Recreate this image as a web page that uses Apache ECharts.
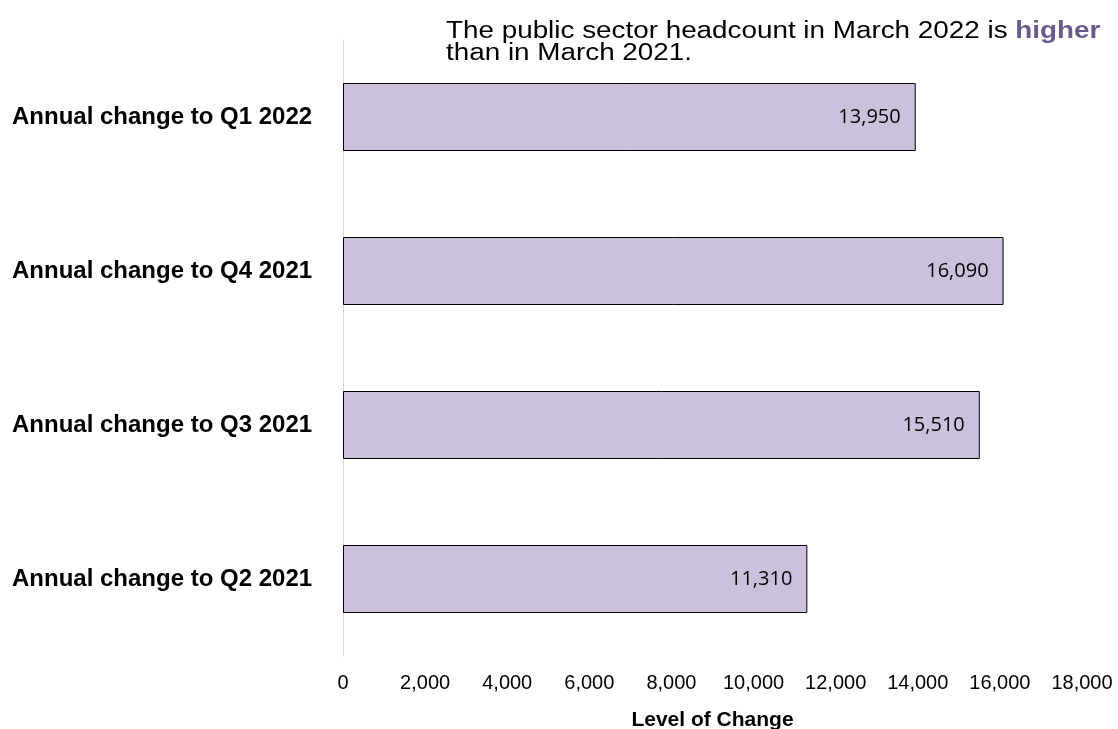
<!DOCTYPE html>
<html><head><meta charset="utf-8">
<script src="https://cdn.jsdelivr.net/npm/echarts@6/dist/echarts.min.js"></script>
<style>html,body{margin:0;padding:0;background:#fff}#c{width:1118px;height:729px}</style>
</head><body><div id="c"></div>
<script>
const categories = ['Annual change to Q1 2022','Annual change to Q4 2021','Annual change to Q3 2021','Annual change to Q2 2021'];
const values = [13950, 16090, 15510, 11310];
const xTicks = [0,2000,4000,6000,8000,10000,12000,14000,16000,18000];
const titleLine1 = 'The public sector headcount in March 2022 is ';
const titleEmph = 'higher';
const titleLine2 = 'than in March 2021.';

const chart = echarts.init(document.getElementById('c'));
const fmt = v => v.toLocaleString('en-GB');
chart.setOption({
  animation:false,
  backgroundColor:'#fff',
  graphic:[{
    type:'text', x:446, y:21, scaleX:1.21, scaleY:1,
    style:{
      text:'{n|'+titleLine1+'}{b|'+titleEmph+'}\n{n|'+titleLine2+'}',
      rich:{
        n:{fontFamily:'Liberation Sans',fontSize:23,fontWeight:'normal',fill:'#000',lineHeight:22},
        b:{fontFamily:'Liberation Sans',fontSize:23,fontWeight:'bold',fill:'#6a5a8c',lineHeight:22}
      }
    }
  }],
  grid:{left:343,right:36,top:40,bottom:73,containLabel:false,outerBoundsMode:'none'},
  xAxis:{
    type:'value',min:xTicks[0],max:xTicks[xTicks.length-1],interval:2000,
    name:'Level of Change',nameLocation:'middle',nameGap:54,
    nameTextStyle:{fontFamily:'Liberation Sans',fontSize:21,fontWeight:'bold',color:'#000'},
    axisLine:{show:false},axisTick:{show:false},splitLine:{show:false},
    axisLabel:{fontFamily:'Liberation Sans',fontSize:20,color:'#000',margin:17,formatter:fmt}
  },
  yAxis:{
    type:'category',data:categories,inverse:true,
    axisLine:{show:true,lineStyle:{color:'#d9d9d9',width:1}},
    axisTick:{show:false},
    axisLabel:{fontFamily:'Liberation Sans',fontSize:24,fontWeight:'bold',color:'#000',align:'left',margin:331}
  },
  series:[{
    type:'bar',data:values,barWidth:68,
    itemStyle:{color:'#cbc1dc',borderColor:'#000',borderWidth:1},
    label:{show:true,position:'insideRight',distance:15,fontFamily:'Open Sans',fontSize:20,color:'#000',formatter:p=>fmt(p.value)}
  }]
});
</script></body></html>
